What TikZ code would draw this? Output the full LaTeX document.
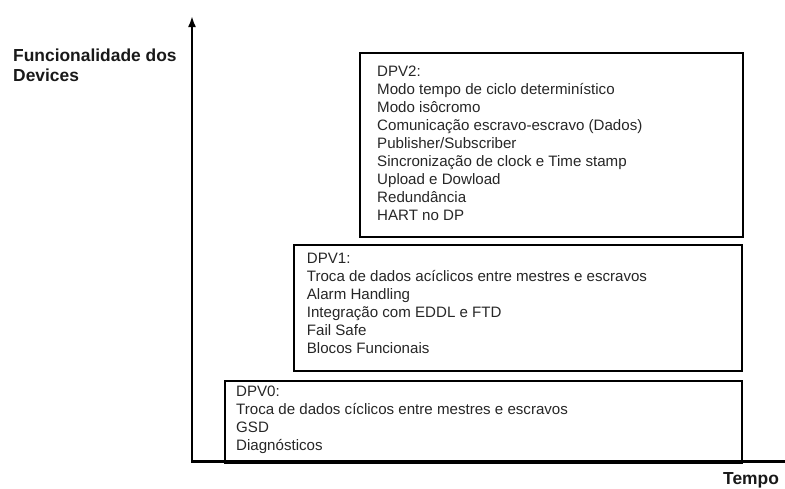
\documentclass[tikz,border=0pt]{standalone}
\usepackage{fontspec}
\setmainfont{Liberation Sans}
\usetikzlibrary{arrows.meta}
\begin{document}
\begin{tikzpicture}[x=1pt,y=-1pt,
  box/.style={draw=black, line width=2.2pt, inner sep=0pt, anchor=north west},
  axisline/.style={draw=black, line width=2.6pt},
  body/.style={anchor=north west, inner sep=0pt, align=left, font=\fontsize{15.1}{18}\selectfont, text=black!85},
  heading/.style={anchor=north west, inner sep=0pt, align=left, font=\bfseries\fontsize{17.4}{20.5}\selectfont, text=black!90}]
\useasboundingbox (0,0) rectangle (785,488);
% axes
\coordinate (origin) at (192,461.5);
\coordinate (yend) at (192,16);
\coordinate (xend) at (785,461.5);
\draw[axisline, -{Latex[length=11pt,width=8pt]}] (origin) -- (yend);
\draw[axisline, line cap=rect] (origin) -- (xend);
% boxes
\node[box, minimum width=383pt, minimum height=184pt] (dpv2box) at (359,52) {};
\node[box, minimum width=448pt, minimum height=126pt] (dpv1box) at (293,244) {};
\node[box, minimum width=517pt, minimum height=81.5pt] (dpv0box) at (224,380) {};
% texts
\node[body] (dpv2) at (377,65.3) {DPV2:\\Modo tempo de ciclo determinístico\\Modo isôcromo\\Comunicação escravo-escravo (Dados)\\Publisher/Subscriber\\Sincronização de clock e Time stamp\\Upload e Dowload\\Redundância\\HART no DP};
\node[body] (dpv1) at (306.7,252.6) {DPV1:\\Troca de dados acíclicos entre mestres e escravos\\Alarm Handling\\Integração com EDDL e FTD\\Fail Safe\\Blocos Funcionais};
\node[body] (dpv0) at (236,386) {DPV0:\\Troca de dados cíclicos entre mestres e escravos\\GSD\\Diagnósticos};
% axis titles
\node[heading] (ytitle) at (13,48.5) {Funcionalidade dos\\Devices};
\node[heading] (xtitle) at (723,472.8) {Tempo};
\end{tikzpicture}
\end{document}
